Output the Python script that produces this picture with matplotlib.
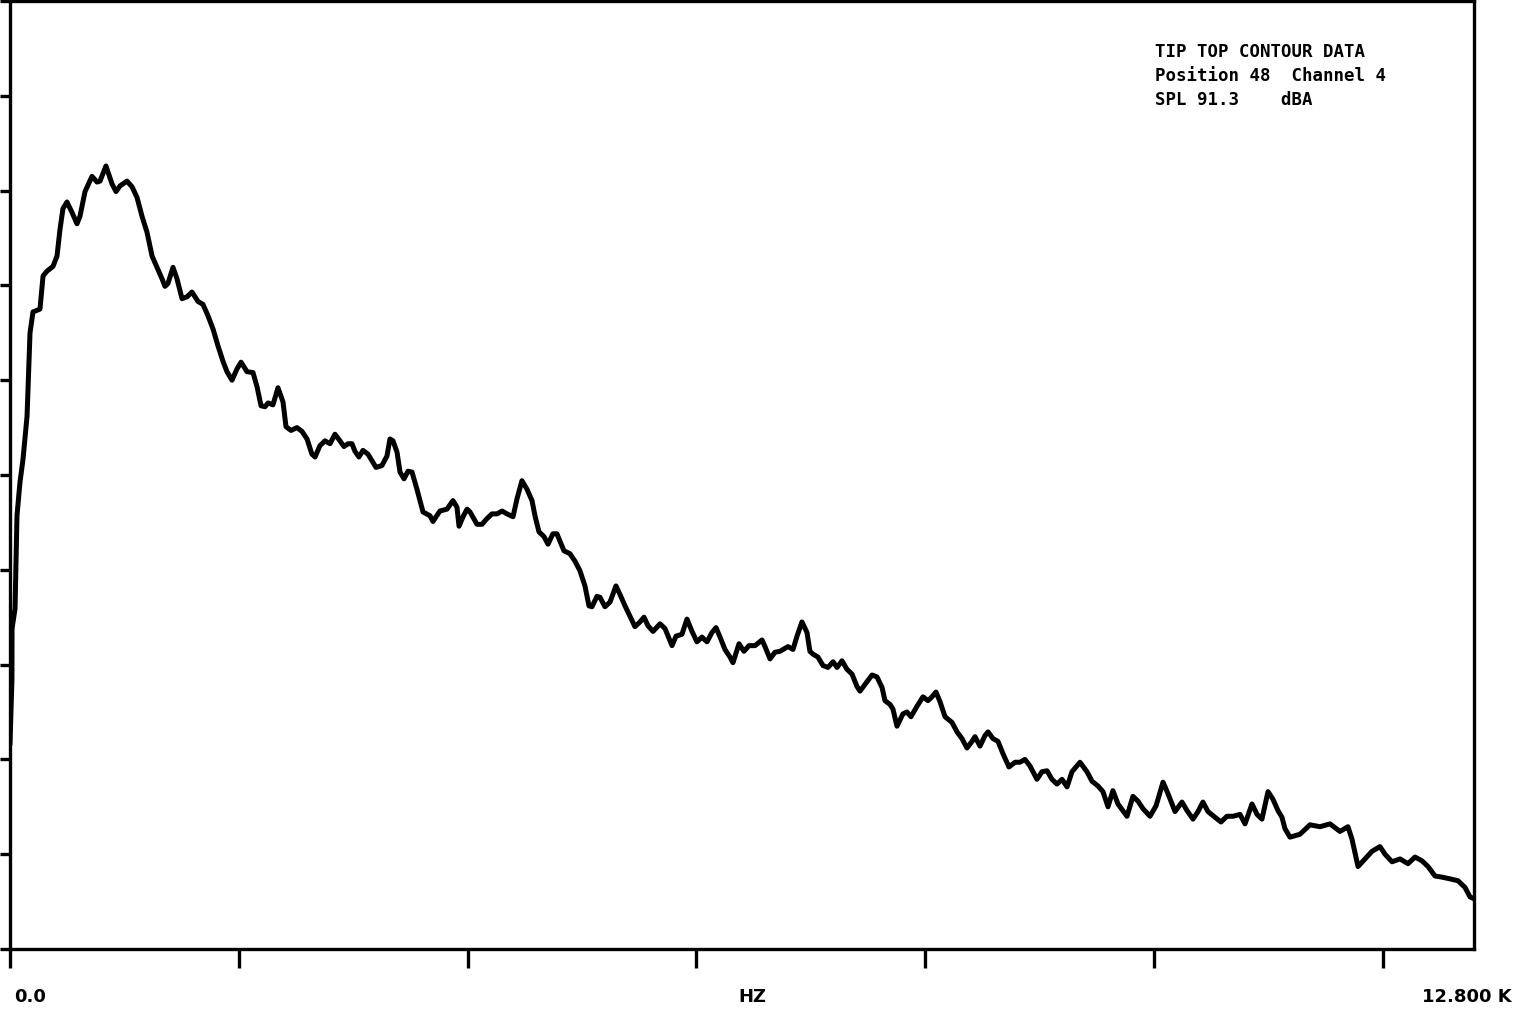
import numpy as np
from matplotlib import pyplot as plt

# spectrum trace (Hz, level in dB on a 0-100 scale)
freq_hz = [
    0, 17, 18, 44, 61, 87, 114, 149, 175, 201, 262, 289, 323, 376, 411, 437, 463, 498, 542, 586,
    612, 656, 717, 761, 787, 839, 892, 927, 962, 1023, 1067, 1110, 1154, 1198, 1242, 1285, 1329, 1355, 1381, 1425,
    1460, 1504, 1548, 1591, 1644, 1687, 1731, 1775, 1819, 1862, 1897, 1941, 1985, 2020, 2072, 2125, 2160, 2195, 2230, 2256,
    2299, 2343, 2387, 2413, 2457, 2509, 2553, 2597, 2640, 2667, 2710, 2754, 2798, 2841, 2885, 2920, 2955, 2990, 3016, 3051,
    3086, 3130, 3165, 3200, 3252, 3296, 3322, 3349, 3384, 3410, 3445, 3480, 3515, 3558, 3611, 3672, 3698, 3759, 3821, 3873,
    3908, 3926, 3961, 3996, 4022, 4083, 4127, 4170, 4214, 4258, 4302, 4345, 4398, 4433, 4476, 4520, 4564, 4590, 4625, 4669,
    4704, 4747, 4782, 4809, 4844, 4896, 4940, 4983, 5027, 5062, 5088, 5132, 5158, 5202, 5246, 5298, 5333, 5377, 5421, 5464,
    5508, 5543, 5578, 5622, 5683, 5727, 5788, 5823, 5875, 5919, 5963, 6006, 6050, 6094, 6138, 6173, 6208, 6251, 6295, 6321,
    6374, 6417, 6461, 6514, 6575, 6601, 6645, 6688, 6732, 6802, 6846, 6881, 6924, 6968, 6994, 7021, 7064, 7108, 7152, 7196,
    7231, 7274, 7318, 7362, 7405, 7432, 7493, 7537, 7580, 7624, 7650, 7694, 7720, 7755, 7807, 7842, 7877, 7930, 7982, 8026,
    8061, 8096, 8131, 8175, 8236, 8280, 8323, 8367, 8411, 8437, 8481, 8524, 8551, 8594, 8638, 8682, 8734, 8787, 8830, 8874,
    8918, 8979, 9023, 9067, 9110, 9154, 9198, 9242, 9285, 9355, 9416, 9460, 9512, 9556, 9600, 9643, 9687, 9766, 9818, 9862,
    9906, 9967, 10020, 10081, 10124, 10186, 10247, 10291, 10343, 10387, 10430, 10474, 10535, 10588, 10640, 10693, 10754, 10798, 10859, 10903,
    10946, 10999, 11042, 11086, 11121, 11147, 11191, 11278, 11366, 11453, 11541, 11628, 11698, 11733, 11786, 11847, 11908, 11978, 12022, 12083,
    12153, 12223, 12284, 12345, 12398, 12459, 12511, 12590, 12660, 12721, 12765, 12800,
]
level_db = [
    21.6, 28.5, 33.8, 35.9, 45.7, 49.2, 51.7, 56.2, 65.0, 67.2, 67.5, 71.0, 71.5, 72.0, 73.1, 75.9, 78.1, 78.8, 77.7, 76.5,
    77.3, 79.9, 81.5, 80.9, 81.0, 82.6, 80.7, 79.9, 80.5, 81.0, 80.4, 79.3, 77.3, 75.6, 73.1, 71.9, 70.7, 69.9, 70.2, 71.9,
    70.7, 68.6, 68.8, 69.3, 68.3, 68.0, 66.8, 65.4, 63.6, 62.0, 60.9, 60.0, 61.2, 61.9, 60.9, 60.8, 59.3, 57.3, 57.2, 57.6,
    57.4, 59.2, 57.7, 55.1, 54.7, 55.0, 54.6, 53.8, 52.2, 51.9, 53.1, 53.6, 53.3, 54.3, 53.6, 53.0, 53.3, 53.3, 52.5, 51.9,
    52.6, 52.2, 51.5, 50.8, 51.0, 52.0, 53.8, 53.6, 52.4, 50.3, 49.6, 50.4, 50.3, 48.5, 46.1, 45.7, 45.1, 46.2, 46.4, 47.3,
    46.6, 44.6, 45.6, 46.4, 46.1, 44.8, 44.8, 45.4, 45.9, 45.9, 46.2, 45.9, 45.6, 47.5, 49.4, 48.5, 47.3, 45.7, 44.0, 43.5,
    42.7, 43.8, 43.8, 43.0, 42.0, 41.7, 40.9, 39.9, 38.3, 36.2, 36.1, 37.2, 37.1, 36.1, 36.6, 38.3, 37.4, 36.2, 35.1, 34.0,
    34.5, 35.0, 34.1, 33.5, 34.3, 33.8, 32.0, 33.0, 33.2, 34.8, 33.5, 32.4, 32.9, 32.4, 33.4, 33.9, 32.9, 31.6, 30.8, 30.2,
    32.2, 31.4, 32.0, 32.0, 32.6, 31.9, 30.6, 31.3, 31.4, 31.9, 31.6, 33.0, 34.5, 33.4, 31.4, 31.1, 30.8, 29.9, 29.7, 30.3,
    29.7, 30.4, 29.5, 29.0, 27.7, 27.2, 28.2, 28.9, 28.7, 27.6, 26.2, 25.8, 25.3, 23.5, 24.8, 25.0, 24.5, 25.6, 26.6, 26.2,
    26.6, 27.1, 26.1, 24.5, 23.9, 22.9, 22.2, 21.2, 21.9, 22.4, 21.4, 22.5, 22.9, 22.2, 21.9, 20.6, 19.2, 19.7, 19.7, 20.0,
    19.3, 17.9, 18.7, 18.8, 17.9, 17.4, 17.9, 17.1, 18.7, 19.7, 18.7, 17.7, 17.2, 16.6, 15.0, 16.7, 15.3, 14.0, 16.1, 15.6,
    14.8, 14.0, 15.1, 17.6, 16.4, 14.5, 15.5, 14.6, 13.7, 14.5, 15.5, 14.5, 13.9, 13.4, 14.0, 14.0, 14.2, 13.2, 15.3, 14.2,
    13.7, 16.6, 15.8, 14.6, 13.9, 12.7, 11.8, 12.1, 13.1, 12.9, 13.2, 12.4, 12.9, 11.6, 8.7, 9.5, 10.3, 10.8, 10.0, 9.2,
    9.5, 9.0, 9.7, 9.3, 8.7, 7.7, 7.6, 7.4, 7.2, 6.5, 5.5, 5.3,
]

x_ticks = [0, 2000, 4000, 6000, 8000, 10000, 12000]
y_ticks = [0, 10, 20, 30, 40, 50, 60, 70, 80, 90, 100]
header_lines = ["TIP TOP CONTOUR DATA", "Position 48  Channel 4", "SPL 91.3    dBA"]

fig = plt.figure(figsize=(15.18, 10.12), dpi=100, facecolor='white')
ax = fig.add_axes([10 / 1518, 62 / 1012, 1464 / 1518, 948 / 1012])

ax.plot(freq_hz, level_db, color='black', lw=3.6, solid_joinstyle='round', solid_capstyle='round')

ax.set_xlim(0, 12800)
ax.set_ylim(0, 100)
ax.set_xticks(x_ticks)
ax.set_yticks(y_ticks)
ax.xaxis.set_ticklabels([])
ax.yaxis.set_ticklabels([])
ax.tick_params(axis='x', direction='out', length=14, width=2.4, color='black')
ax.tick_params(axis='y', direction='out', length=7, width=2.4, color='black')
for sp in ax.spines.values():
    sp.set_linewidth(2.4)
    sp.set_color('black')

# header block in the upper right
for i, line in enumerate(header_lines):
    ax.text(1155 / 1518, 1 - (52 + 24 * i) / 1012, line, transform=fig.transFigure,
            family='DejaVu Sans Mono', fontweight='bold', fontsize=12.5,
            ha='left', va='center', color='black')

# axis end labels
fig.text(14 / 1518, 1 - 997 / 1012, "0.0", family='DejaVu Sans', fontweight='heavy',
         fontsize=13, ha='left', va='center')
fig.text(752 / 1518, 1 - 997 / 1012, "HZ", family='DejaVu Sans', fontweight='heavy',
         fontsize=13, ha='center', va='center')
fig.text(1512 / 1518, 1 - 997 / 1012, "12.800 K", family='DejaVu Sans', fontweight='heavy',
         fontsize=13, ha='right', va='center')

fig.savefig('out.png', dpi=100, facecolor='white')
